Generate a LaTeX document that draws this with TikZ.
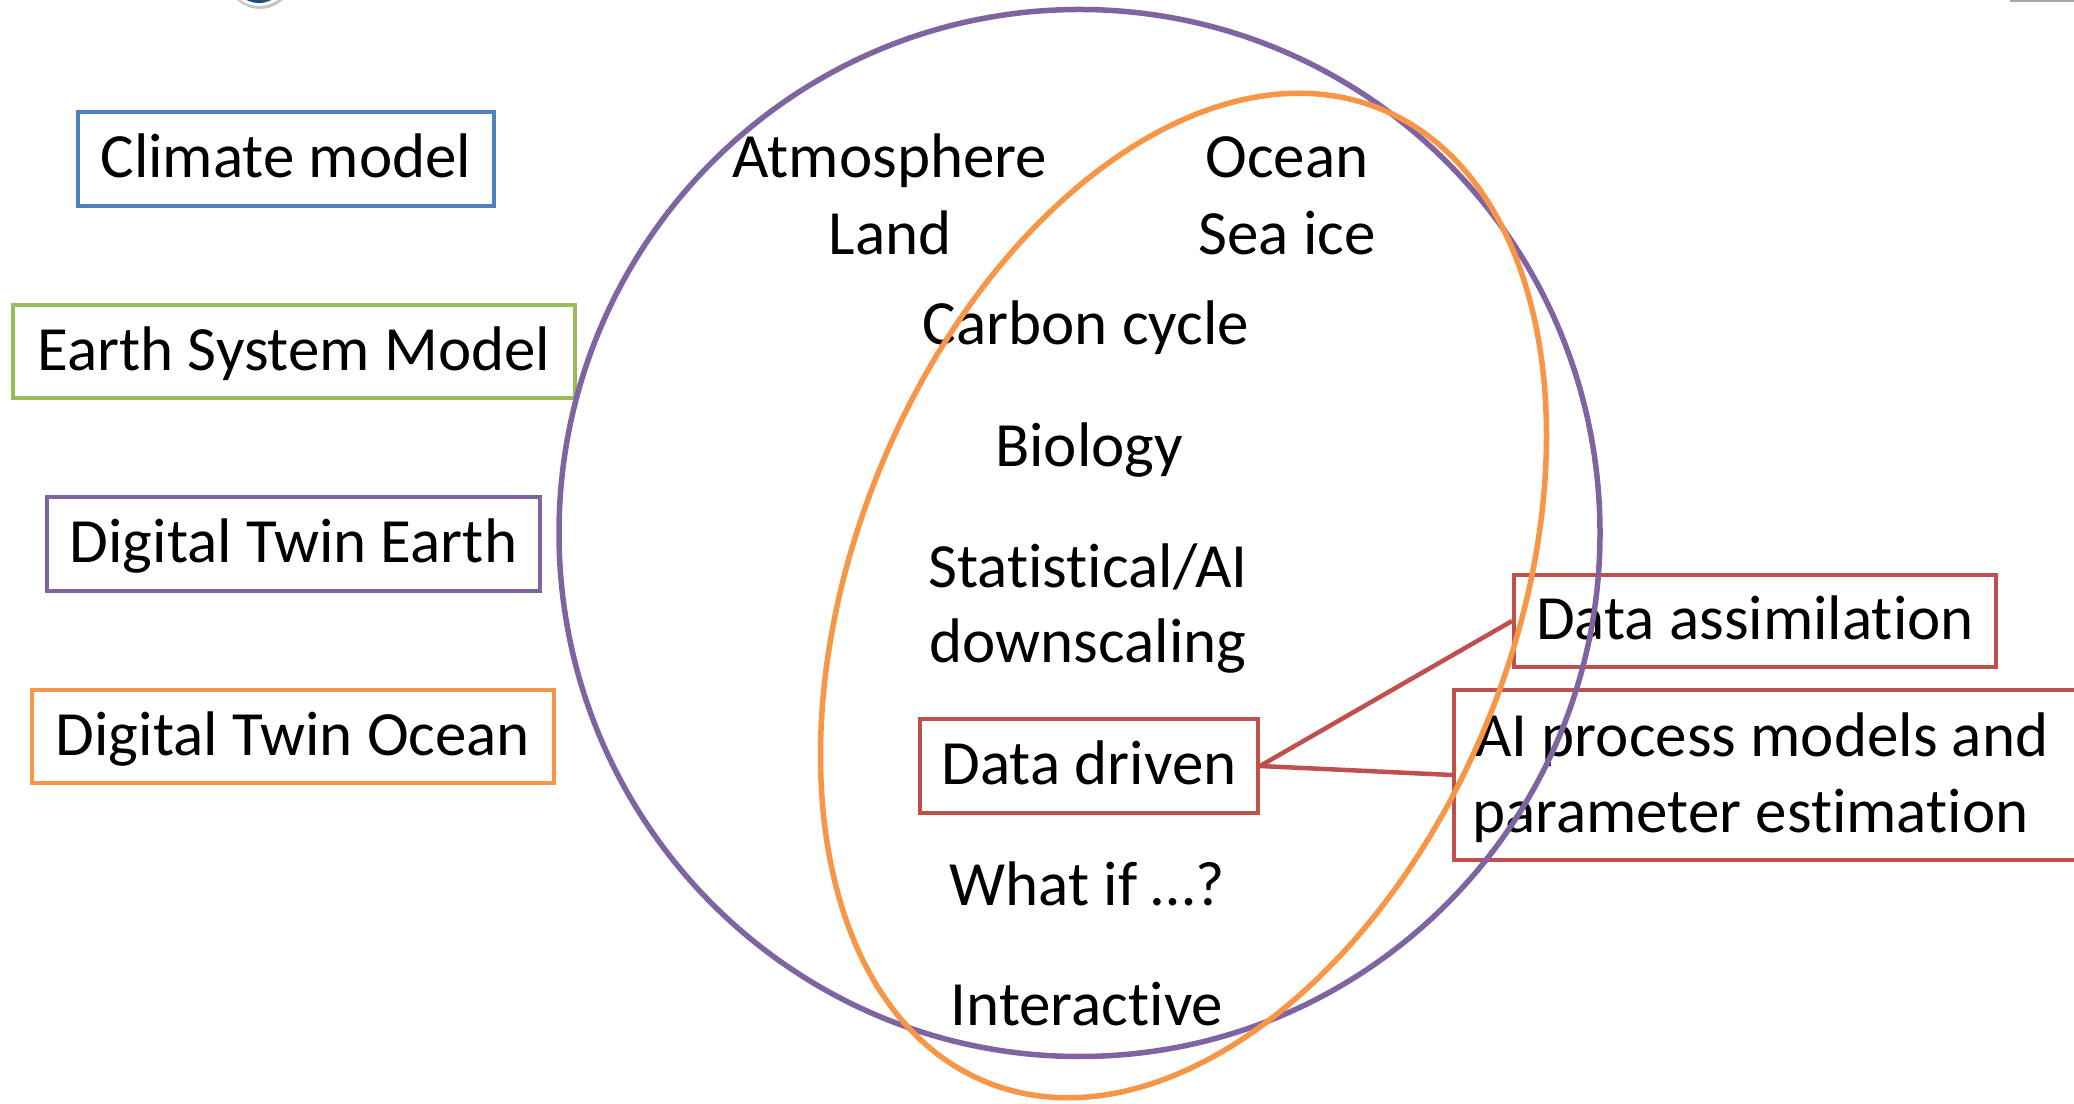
\documentclass[tikz,border=0pt]{standalone}
\usepackage{fontspec}
\setmainfont{Carlito}[Ligatures=NoCommon, Contextuals=NoAlternate, RawFeature={-liga;-clig;-calt}]
\definecolor{cmblue}{HTML}{4F81BD}
\definecolor{esmgreen}{HTML}{9BBB59}
\definecolor{dtepurple}{HTML}{8064A2}
\definecolor{dtoorange}{HTML}{F79646}
\definecolor{ddred}{HTML}{C0504D}
\definecolor{logoblue}{HTML}{1F4E79}
\tikzset{
  big/.style={font=\fontsize{63pt}{77pt}\selectfont},
  box/.style={big, draw, line width=4pt, fill=white, inner sep=0pt, text height=44pt, text depth=6pt},
  lbl/.style={big, anchor=base, inner sep=0pt},
  conn/.style={draw=ddred, line width=4.5pt},
  ring/.style={line width=5.5pt}
}
\begin{document}
\begin{tikzpicture}[x=1pt,y=1pt]
\path[use as bounding box, clip] (0,0) rectangle (2074,1103);
\fill[white] (0,0) rectangle (2074,1103);
% cropped logo and bar at the top edge
\fill[gray!45] (260,1127) circle (33);
\fill[white] (259,1128) circle (31);
\fill[logoblue] (259,1128) circle (28);
\fill[gray!70] (2010,1101) rectangle (2074,1103);
% legend boxes
\node[box, draw=cmblue, minimum width=416pt, minimum height=94pt] (climate) at (286,944) {Climate model};
\node[box, draw=esmgreen, minimum width=562pt, minimum height=93pt] (esm) at (294,751.5) {Earth System Model};
\node[box, draw=dtepurple, minimum width=493pt, minimum height=94pt] (dte) at (293.5,559) {Digital Twin Earth};
\node[box, draw=dtoorange, minimum width=522pt, minimum height=93pt] (dto) at (293,366.5) {Digital Twin Ocean};
% labels inside
\node[lbl] (atm) at (890,925) {Atmosphere};
\node[lbl] (land) at (890,848) {Land};
\node[lbl] (ocean) at (1287,925) {Ocean};
\node[lbl] (seaice) at (1287,848) {Sea ice};
\node[lbl] (carbon) at (1086,758) {Carbon cycle};
\node[lbl] (biology) at (1089,636) {Biology};
\node[lbl] (stat) at (1088,515) {Statistical/AI};
\node[lbl] (down) at (1088,440) {downscaling};
\node[lbl] (whatif) at (1087,197) {What if …?};
\node[lbl] (interactive) at (1087,78) {Interactive};
% data boxes
\node[box, draw=ddred, minimum width=338pt, minimum height=94pt] (dd) at (1089,337) {Data driven};
\node[box, draw=ddred, minimum width=482pt, minimum height=92pt] (da) at (1755,482) {Data assimilation};
\node[draw=ddred, line width=4pt, fill=white, anchor=west, minimum height=170pt,
      minimum width=720pt, inner sep=0pt] (ai) at (1452,328) {};
\node[lbl, anchor=base west] (ai1) at (1475,346) {AI process models and};
\node[lbl, anchor=base west] (ai2) at (1472,270) {parameter estimation};
\draw[conn] (dd.east) -- (da.west);
\draw[conn] (dd.east) -- (ai.west);
% ellipses
\draw[ring, draw=dtepurple] (1079.5,570) ellipse [x radius=520.5, y radius=523.5];
\draw[ring, draw=dtoorange, rotate around={68:(1183.5,507.5)}] (1183.5,507.5) ellipse [x radius=525, y radius=329];
\end{tikzpicture}
\end{document}
